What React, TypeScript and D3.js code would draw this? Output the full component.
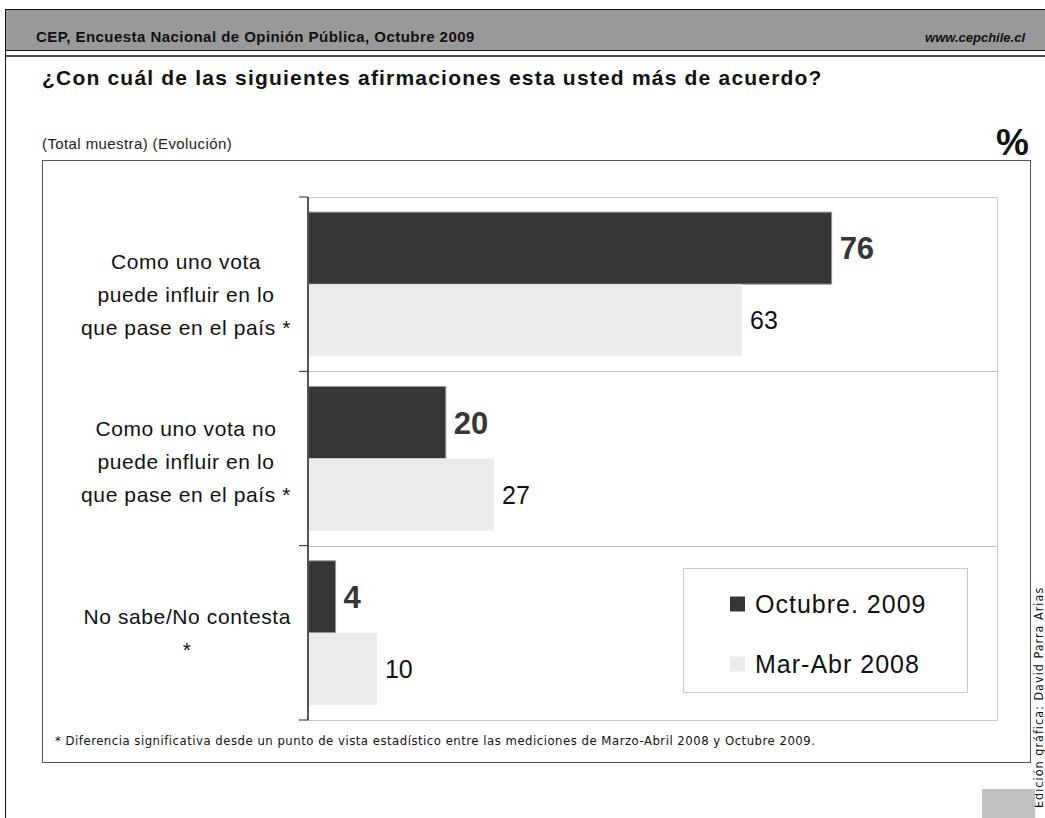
import React, { useEffect, useRef } from 'react';
import * as d3 from 'd3';

// Chart data
const categoryLines: string[][] = [
  ['Como uno vota', 'puede influir en lo', 'que pase en el país *'],
  ['Como uno vota no', 'puede influir en lo', 'que pase en el país *'],
  ['No sabe/No contesta', '*'],
];
const seriesNames = ['Octubre. 2009', 'Mar-Abr 2008'];
const octubre2009 = [76, 20, 4];
const marAbr2008 = [63, 27, 10];

const headerLeft = 'CEP, Encuesta Nacional de Opinión Pública, Octubre 2009';
const headerRight = 'www.cepchile.cl';
const title = '¿Con cuál de las siguientes afirmaciones esta usted más de acuerdo?';
const subtitle = '(Total muestra) (Evolución)';
const footnote =
  '* Diferencia significativa desde un punto de vista estadístico entre las mediciones de Marzo-Abril 2008 y Octubre 2009.';
const credit = 'Edición gráfica: David Parra Arias';

const W = 1045;
const H = 818;
const SANS = '"Liberation Sans", Arial, sans-serif';
const CONDENSED = '"DejaVu Sans Condensed", "DejaVu Sans", sans-serif';
const DARK = '#363636';
const LIGHT = '#ebebeb';

const App: React.FC = () => {
  const svgRef = useRef<SVGSVGElement | null>(null);

  useEffect(() => {
    if (!svgRef.current) return;
    const svg = d3.select(svgRef.current);
    svg.selectAll('*').remove();

    // page frame + header band
    svg.append('rect').attr('x', 0).attr('y', 0).attr('width', W).attr('height', H).attr('fill', '#fff');
    svg.append('rect')
      .attr('x', 5.5).attr('y', 9.5).attr('width', W).attr('height', 41)
      .attr('fill', '#999').attr('stroke', '#111').attr('stroke-width', 1);
    svg.append('line')
      .attr('x1', 5.5).attr('x2', W).attr('y1', 56).attr('y2', 56)
      .attr('stroke', '#111').attr('stroke-width', 1.5);
    svg.append('line')
      .attr('x1', 5.5).attr('x2', 5.5).attr('y1', 9).attr('y2', H)
      .attr('stroke', '#111').attr('stroke-width', 1);

    svg.append('text')
      .attr('x', 36).attr('y', 42)
      .style('font-family', SANS).style('font-size', '15px').style('font-weight', 'bold')
      .style('letter-spacing', '0.45px')
      .attr('fill', '#111').text(headerLeft);
    svg.append('text')
      .attr('x', 1025).attr('y', 42).attr('text-anchor', 'end')
      .style('font-family', SANS).style('font-size', '13px').style('font-weight', 'bold')
      .style('font-style', 'italic').attr('fill', '#111').text(headerRight);

    svg.append('text')
      .attr('x', 42).attr('y', 85)
      .style('font-family', SANS).style('font-size', '21px').style('font-weight', 'bold')
      .style('letter-spacing', '1.2px')
      .attr('fill', '#111').text(title);
    svg.append('text')
      .attr('x', 42).attr('y', 149)
      .style('font-family', SANS).style('font-size', '15px')
      .style('letter-spacing', '0.4px')
      .attr('fill', '#222').text(subtitle);
    svg.append('text')
      .attr('x', 1029).attr('y', 155).attr('text-anchor', 'end')
      .style('font-family', SANS).style('font-size', '37px').style('font-weight', 'bold')
      .attr('fill', '#111').text('%');

    // chart box
    svg.append('rect')
      .attr('x', 42.5).attr('y', 160.5).attr('width', 988).attr('height', 602)
      .attr('fill', '#fff').attr('stroke', '#555').attr('stroke-width', 1);

    // scales
    const plotLeft = 308;
    const plotRight = 997;
    const plotTop = 197;
    const plotBottom = 720;

    const xScale = d3.scaleLinear().domain([0, 100]).range([plotLeft, plotRight]);
    const yScale = d3.scaleBand<number>()
      .domain(d3.range(categoryLines.length))
      .range([plotTop, plotBottom])
      .padding(0);
    const inner = d3.scaleBand<number>()
      .domain([0, 1])
      .range([0, yScale.bandwidth()])
      .paddingInner(0)
      .paddingOuter(0.21);

    const g = svg.append('g');

    // plot area border
    g.append('rect')
      .attr('x', plotLeft).attr('y', plotTop + 0.5)
      .attr('width', plotRight - plotLeft + 0.5).attr('height', plotBottom - plotTop)
      .attr('fill', 'none').attr('stroke', '#c8c8c8').attr('stroke-width', 1);

    // category separators
    g.selectAll('.sep')
      .data(d3.range(1, categoryLines.length))
      .enter()
      .append('line')
      .attr('class', 'sep')
      .attr('x1', plotLeft).attr('x2', plotRight)
      .attr('y1', (d) => Math.round(yScale(d) ?? 0) + 0.5)
      .attr('y2', (d) => Math.round(yScale(d) ?? 0) + 0.5)
      .attr('stroke', '#bdbdbd').attr('stroke-width', 1);

    const series = [octubre2009, marAbr2008];
    const fills = [DARK, LIGHT];

    series.forEach((vals, si) => {
      g.selectAll(`.bar-${si}`)
        .data(vals)
        .enter()
        .append('rect')
        .attr('class', `bar-${si}`)
        .attr('x', xScale(0))
        .attr('y', (_d, i) => (yScale(i) ?? 0) + (inner(si) ?? 0))
        .attr('width', (d) => xScale(d) - xScale(0))
        .attr('height', inner.bandwidth())
        .attr('fill', fills[si])
        .attr('stroke', si === 0 ? '#9a9a9a' : 'none')
        .attr('stroke-width', 1);

      g.selectAll(`.val-${si}`)
        .data(vals)
        .enter()
        .append('text')
        .attr('class', `val-${si}`)
        .attr('x', (d) => xScale(d) + 8)
        .attr('y', (_d, i) => (yScale(i) ?? 0) + (inner(si) ?? 0) + inner.bandwidth() / 2)
        .attr('dy', '0.36em')
        .style('font-family', SANS)
        .style('font-size', si === 0 ? '31px' : '25px')
        .style('font-weight', si === 0 ? 'bold' : 'normal')
        .attr('fill', si === 0 ? DARK : '#111')
        .text((d) => String(d));
    });

    // y axis line + ticks
    g.append('line')
      .attr('x1', plotLeft).attr('x2', plotLeft)
      .attr('y1', plotTop).attr('y2', plotBottom)
      .attr('stroke', '#555').attr('stroke-width', 2);
    g.selectAll('.tick')
      .data(d3.range(categoryLines.length + 1))
      .enter()
      .append('line')
      .attr('x1', plotLeft - 9).attr('x2', plotLeft)
      .attr('y1', (d) => (d < categoryLines.length ? yScale(d) ?? 0 : plotBottom))
      .attr('y2', (d) => (d < categoryLines.length ? yScale(d) ?? 0 : plotBottom))
      .attr('stroke', '#222').attr('stroke-width', 1);

    // category labels (centered, pushed left if they would hit the axis)
    const labelShift = [10, 3, 0];
    categoryLines.forEach((lines, ci) => {
      const cy = (yScale(ci) ?? 0) + yScale.bandwidth() / 2 + labelShift[ci];
      const lh = 33;
      const t = g.append('text')
        .attr('text-anchor', 'middle')
        .style('font-family', SANS).style('font-size', '21px')
        .style('letter-spacing', '0.6px')
        .attr('fill', '#111');
      lines.forEach((ln, li) => {
        t.append('tspan')
          .attr('y', cy + (li - (lines.length - 1) / 2) * lh)
          .attr('dy', '0.36em')
          .text(ln);
      });
      let maxW = 0;
      t.selectAll<SVGTSpanElement, unknown>('tspan').each(function () {
        maxW = Math.max(maxW, this.getComputedTextLength());
      });
      const cx = Math.min(203, 291 - maxW / 2);
      t.selectAll('tspan').attr('x', cx);
    });

    // legend
    const legend = svg.append('g');
    legend.append('rect')
      .attr('x', 683.5).attr('y', 568.5).attr('width', 284).attr('height', 124)
      .attr('fill', '#fff').attr('stroke', '#c8c8c8').attr('stroke-width', 1);
    seriesNames.forEach((name, i) => {
      const cy = 604 + i * 60;
      legend.append('rect')
        .attr('x', 730).attr('y', cy - 7.5).attr('width', 15).attr('height', 15)
        .attr('fill', fills[i]);
      legend.append('text')
        .attr('x', 755).attr('y', cy).attr('dy', '0.36em')
        .style('font-family', SANS).style('font-size', '25px')
        .style('letter-spacing', '1px')
        .attr('fill', '#111').text(name);
    });

    // footnote
    svg.append('text')
      .attr('x', 55).attr('y', 745)
      .style('font-family', CONDENSED).style('font-size', '13px')
      .style('letter-spacing', '0.5px')
      .attr('fill', '#111').text(footnote);

    // credit, rotated
    svg.append('text')
      .attr('transform', 'translate(1043,808) rotate(-90)')
      .style('font-family', CONDENSED).style('font-size', '12.5px')
      .style('letter-spacing', '1px')
      .attr('fill', '#111').text(credit);

    // gray corner square
    svg.append('rect')
      .attr('x', 982).attr('y', 789).attr('width', 53).attr('height', 29)
      .attr('fill', '#c0c0c0');
  }, []);

  return (
    <div style={{ position: 'absolute', left: 0, top: 0, width: W, height: H }}>
      <svg ref={svgRef} width={W} height={H} style={{ display: 'block' }}></svg>
    </div>
  );
};

export default App;
